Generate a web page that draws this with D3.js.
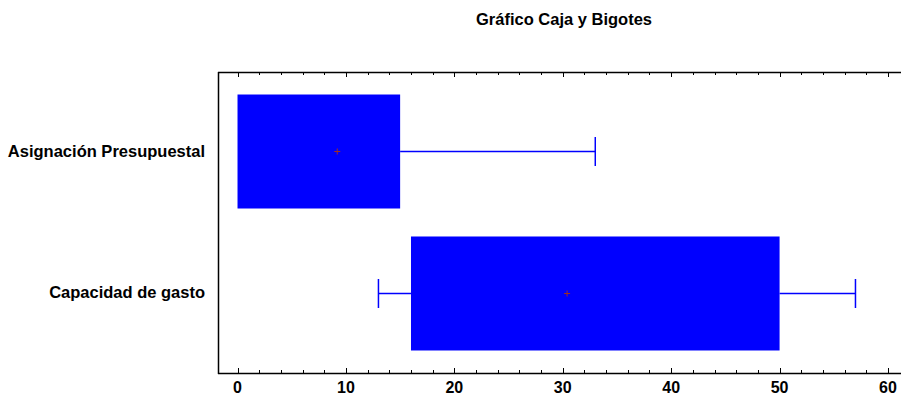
<!DOCTYPE html>
<html lang="es">
<head>
<meta charset="UTF-8">
<title>Gráfico Caja y Bigotes</title>
<script src="https://d3js.org/d3.v7.min.js"></script>
<style>
  body { margin: 0; background: #fff; }
  svg text { font-family: Arial, "Liberation Sans", Helvetica, sans-serif; font-weight: bold; fill: #000; }
</style>
</head>
<body>
<svg id="chart" width="901" height="396"></svg>
<script>
// datos
const categories = ["Asignación Presupuestal", "Capacidad de gasto"];
const mins   = [0, 13];
const q1s    = [0, 16];
const q3s    = [15, 50];
const maxs   = [33, 57];
const means  = [9.2, 30.4];
const xTicks = [0, 10, 20, 30, 40, 50, 60];

const width = 901, height = 396;
const margin = { top: 72, right: 0, bottom: 23, left: 218 };

const svg = d3.select("#chart");

const x = d3.scaleLinear()
    .domain([-1.8, 61.2])
    .range([margin.left, width - margin.right]);

const y = d3.scalePoint()
    .domain(categories)
    .range([margin.top, height - margin.bottom])
    .padding(0.56);

const boxH = 114, capH = 29;

// titulo
svg.append("text")
    .attr("x", 564).attr("y", 25)
    .attr("text-anchor", "middle")
    .style("font-size", "16.5px")
    .text("Gráfico Caja y Bigotes");

// ejes
const minor = d3.range(0, 61, 2);
const bottomY = height - margin.bottom;

const g = svg.append("g").attr("stroke", "#000");
g.append("line")
    .attr("x1", margin.left).attr("x2", width)
    .attr("y1", margin.top + 0.5).attr("y2", margin.top + 0.5)
    .attr("stroke-width", 1.5);
g.append("line")
    .attr("x1", margin.left).attr("x2", width)
    .attr("y1", bottomY + 0.5).attr("y2", bottomY + 0.5)
    .attr("stroke-width", 1.5);
g.append("line")
    .attr("x1", margin.left + 0.5).attr("x2", margin.left + 0.5)
    .attr("y1", margin.top).attr("y2", bottomY + 1)
    .attr("stroke-width", 1.5);

minor.forEach(v => {
  const len = v % 10 === 0 ? 5 : 3;
  const px = Math.round(x(v)) + 0.5;
  g.append("line").attr("x1", px).attr("x2", px)
    .attr("y1", margin.top).attr("y2", margin.top + len);
  g.append("line").attr("x1", px).attr("x2", px)
    .attr("y1", bottomY).attr("y2", bottomY - len);
});

svg.selectAll(".xtick")
    .data(xTicks)
    .enter().append("text")
    .attr("x", d => x(d))
    .attr("y", 393)
    .attr("text-anchor", "middle")
    .style("font-size", "16px")
    .text(d => d);

// etiquetas de categorias
svg.selectAll(".ylab")
    .data(categories)
    .enter().append("text")
    .attr("x", 205)
    .attr("y", d => y(d) + 5)
    .attr("text-anchor", "end")
    .style("font-size", "16.5px")
    .text(d => d);

// cajas y bigotes
const blue = "#0000ff";
categories.forEach((c, i) => {
  const cy = y(c);
  // bigote izquierdo
  if (mins[i] < q1s[i]) {
    svg.append("line")
      .attr("x1", x(mins[i])).attr("x2", x(q1s[i]))
      .attr("y1", cy).attr("y2", cy)
      .attr("stroke", blue).attr("stroke-width", 1.3);
    svg.append("line")
      .attr("x1", x(mins[i])).attr("x2", x(mins[i]))
      .attr("y1", cy - capH / 2).attr("y2", cy + capH / 2)
      .attr("stroke", blue).attr("stroke-width", 1.5);
  }
  // bigote derecho
  svg.append("line")
    .attr("x1", x(q3s[i])).attr("x2", x(maxs[i]))
    .attr("y1", cy).attr("y2", cy)
    .attr("stroke", blue).attr("stroke-width", 1.3);
  svg.append("line")
    .attr("x1", x(maxs[i])).attr("x2", x(maxs[i]))
    .attr("y1", cy - capH / 2).attr("y2", cy + capH / 2)
    .attr("stroke", blue).attr("stroke-width", 1.5);
  // caja
  svg.append("rect")
    .attr("x", x(q1s[i]))
    .attr("y", cy - boxH / 2)
    .attr("width", x(q3s[i]) - x(q1s[i]))
    .attr("height", boxH)
    .attr("fill", blue);
  // media
  const mx = x(means[i]);
  svg.append("path")
    .attr("d", `M${mx - 3},${cy}H${mx + 3}M${mx},${cy - 3}V${cy + 3}`)
    .attr("stroke", "#a03020").attr("stroke-width", 1);
});
</script>
</body>
</html>
